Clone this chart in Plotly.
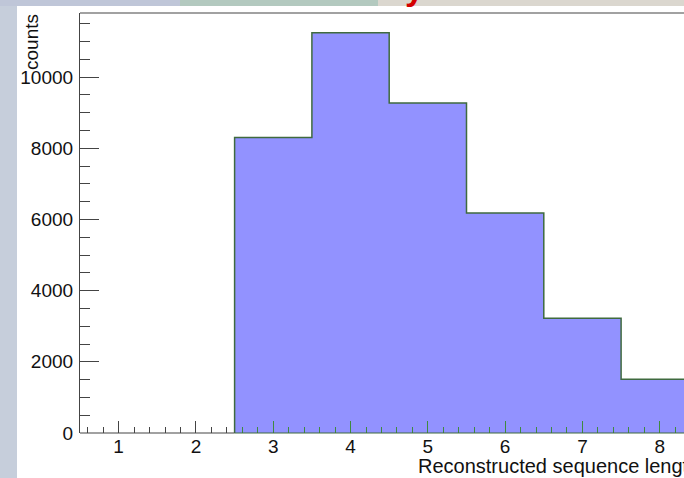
import plotly.graph_objects as go

# Histogram contents: reconstructed sequence length (bin centres) and counts
seq_length = [3, 4, 5, 6, 7, 8]
counts = [8300, 11240, 9270, 6180, 3220, 1510]
bin_width = 1.0

x_ticks = [1, 2, 3, 4, 5, 6, 7, 8]
y_ticks = [0, 2000, 4000, 6000, 8000, 10000]

W, H = 684, 478
L, R, T, B = 80, 0, 13, 45
FONT = "Liberation Sans, Arial, Helvetica, sans-serif"
AXIS_GREY = "#444444"
HIST_LINE = "#3f6a3f"
TICK_GREEN = "#3f8a3f"


def px_x(px):
    return (px - L) / (W - L - R)


def px_y(py):
    return (H - B - py) / (H - T - B)


x_min = 0.5
x_max = x_min + (W - L - R) / 77.3
lo_edge = seq_length[0] - bin_width / 2

# minor ticks every 0.2, split into the empty region and the filled region
minor_all = [round(i * 0.2, 1) for i in range(3, int(x_max / 0.2) + 1)]
minor_all = [m for m in minor_all if abs(m - round(m)) > 1e-6]
minor_left = [m for m in minor_all if m < lo_edge]
minor_right = [m for m in minor_all if m > lo_edge]
major_left = [t for t in x_ticks if t < lo_edge]
major_right = [t for t in x_ticks if t > lo_edge]

# step outline built from the bin edges
edges_x = [lo_edge]
edges_y = [0]
for c, v in zip(seq_length, counts):
    edges_x.append(c - bin_width / 2)
    edges_y.append(v)
edges_x.append(seq_length[-1] + bin_width / 2)
edges_y.append(counts[-1])

fig = go.Figure()
fig.add_trace(go.Bar(
    x=seq_length, y=counts, width=bin_width,
    marker=dict(color="#9292ff", line=dict(width=0)),
    hoverinfo="x+y",
))
# outline lives on the overlay axis (same range) so its ticks get drawn
fig.add_trace(go.Scatter(
    x=edges_x, y=edges_y, mode="lines", xaxis="x2", yaxis="y",
    line=dict(shape="hv", color=HIST_LINE, width=1.5),
    hoverinfo="skip",
))

shapes = [
    # slide strip along the top
    dict(type="rect", xref="paper", yref="paper", layer="below",
         x0=px_x(0), x1=px_x(180), y0=px_y(6), y1=px_y(0),
         fillcolor="#bfc6d8", line=dict(width=0)),
    dict(type="rect", xref="paper", yref="paper", layer="below",
         x0=px_x(180), x1=px_x(378), y0=px_y(6), y1=px_y(0),
         fillcolor="#b3c9bf", line=dict(width=0)),
    dict(type="rect", xref="paper", yref="paper", layer="below",
         x0=px_x(378), x1=px_x(W), y0=px_y(6), y1=px_y(0),
         fillcolor="#dbd7cf", line=dict(width=0)),
    # white canvas
    dict(type="rect", xref="paper", yref="paper", layer="below",
         x0=px_x(17), x1=px_x(W + 2), y0=px_y(H + 2), y1=px_y(6),
         fillcolor="white", line=dict(width=0)),
    # frame: top edge and the x-axis line (histogram colour under the bins)
    dict(type="line", xref="paper", yref="paper", layer="above",
         x0=0, x1=1.01, y0=1, y1=1, line=dict(color=AXIS_GREY, width=1.2)),
    dict(type="line", xref="x", yref="paper", layer="above",
         x0=x_min, x1=lo_edge, y0=0, y1=0,
         line=dict(color=AXIS_GREY, width=1.2)),
    dict(type="line", xref="x", yref="paper", layer="above",
         x0=lo_edge, x1=x_max + 0.1, y0=0, y1=0,
         line=dict(color=HIST_LINE, width=1.2)),
]

annotations = [
    dict(text="y", xref="paper", yref="paper", x=px_x(403), y=px_y(9),
         xanchor="left", yanchor="bottom", showarrow=False,
         font=dict(family=FONT, size=34, color="#d40000", weight="bold")),
    dict(text="counts", xref="paper", yref="paper", x=px_x(32), y=px_y(42),
         xanchor="center", yanchor="middle", textangle=-90, showarrow=False,
         font=dict(family=FONT, size=19, color="#111111")),
    dict(text="Reconstructed sequence length", xref="paper", yref="paper",
         x=px_x(416), y=px_y(466), xanchor="left", yanchor="middle",
         showarrow=False,
         font=dict(family=FONT, size=20, color="#111111")),
]

fig.update_layout(
    width=W, height=H,
    margin=dict(l=L, r=R, t=T, b=B, pad=0),
    paper_bgcolor="#c6cedb",
    plot_bgcolor="white",
    showlegend=False,
    bargap=0,
    shapes=shapes,
    annotations=annotations,
    font=dict(family=FONT, size=19, color="#111111"),
)

common_x = dict(
    range=[x_min, x_max], ticks="inside", ticklen=12, tickwidth=1.2,
    showgrid=False, zeroline=False, showline=False,
    tickfont=dict(size=19, color="#111111"),
)
fig.update_layout(
    xaxis=dict(
        **common_x,
        tickmode="array", tickvals=major_left, tickcolor=AXIS_GREY,
        minor=dict(tickmode="array", tickvals=minor_left, ticks="inside",
                   ticklen=6, tickcolor=AXIS_GREY, tickwidth=1),
    ),
    xaxis2=dict(
        **common_x,
        overlaying="x", anchor="y", side="bottom",
        tickmode="array", tickvals=major_right, tickcolor=TICK_GREEN,
        minor=dict(tickmode="array", tickvals=minor_right, ticks="inside",
                   ticklen=6, tickcolor=TICK_GREEN, tickwidth=1),
    ),
    yaxis=dict(
        range=[0, 11798],
        tickmode="array", tickvals=y_ticks, tickformat="d",
        ticks="inside", ticklen=19, tickwidth=1.2, tickcolor=AXIS_GREY,
        minor=dict(dtick=500, tick0=0, ticks="inside", ticklen=10,
                   tickcolor=AXIS_GREY, tickwidth=1),
        showline=True, linecolor=AXIS_GREY, linewidth=1.2,
        showgrid=False, zeroline=False,
        ticklabelstandoff=2,
        tickfont=dict(size=19, color="#111111"),
    ),
)

fig.write_html("out.html")
